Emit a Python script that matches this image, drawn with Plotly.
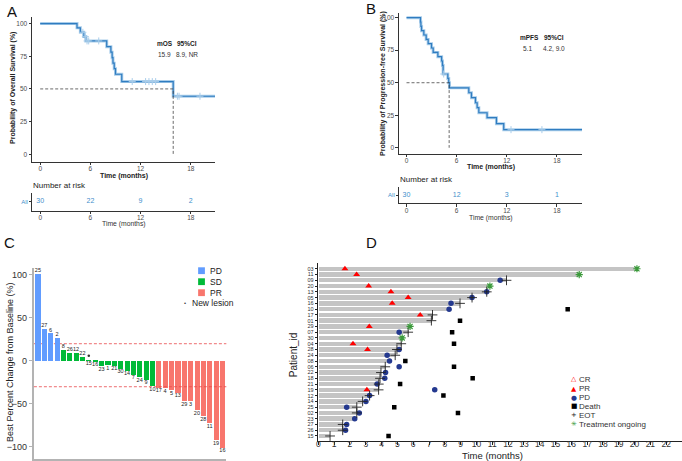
import numpy as np
import plotly.graph_objects as go

W, H = 682, 461
def fx(p): return p / W
def fy(p): return 1 - p / H

# ---------------- Panel A: overall survival ----------------
os_time = [0, 4.4, 4.8, 5.2, 5.45, 7.95, 8.45, 8.6, 8.7, 8.85, 9.0, 9.75, 15.9, 20.9]
os_surv = [100, 96.7, 93.3, 90.0, 86.7, 82.3, 78.1, 73.9, 69.7, 65.5, 61.2, 55.6, 44.4, 44.4]
os_censor = [5.1, 5.4, 5.6, 5.8, 7.0, 11.0, 12.6, 13.0, 13.4, 13.8, 16.4, 16.6, 19.1]
os_median = 15.9
os_risk_times = [0, 6, 12, 18]
os_risk_n = [30, 22, 9, 2]

# ---------------- Panel B: progression-free survival ----------------
pfs_time = [0, 1.67, 1.72, 1.8, 2.07, 2.35, 2.59, 2.99, 3.19, 3.75, 4.2, 4.3, 4.38, 4.94,
            5.05, 5.14, 7.45, 7.77, 8.25, 8.45, 8.65, 9.64, 10.76, 11.63, 21.0]
pfs_surv = [100, 96.7, 93.3, 90.0, 86.7, 83.3, 80.0, 76.7, 73.3, 70.0, 66.7, 63.3, 56.7, 53.3,
            50.0, 46.1, 42.3, 38.5, 34.6, 30.8, 26.9, 23.1, 18.5, 13.9, 13.9]
pfs_censor = [4.45, 12.5, 16.2]
pfs_median = 5.1
pfs_risk_times = [0, 6, 12, 18]
pfs_risk_n = [30, 12, 3, 1]

# ---------------- Panel C: waterfall ----------------
wf_patient = ["25", "27", "6", "2", "8", "26", "12", "22", "15", "16", "23", "1", "21", "30", "14",
              "7", "24", "9", "10", "17", "4", "5", "13", "29", "3", "20", "28", "11", "19", "16"]
wf_change = [101, 37, 32, 27, 13, 9.5, 9, 5, 0.5, -0.5, -6, -5, -5.5, -9, -11.5,
             -16, -19, -22, -29, -31, -31.5, -34, -37, -47, -47, -57, -64, -72, -92, -101]
wf_response = ["PD"] * 4 + ["SD"] * 15 + ["PR"] * 11
wf_new_lesion = ["15"]

# ---------------- Panel D: swimmer ----------------
sw_ids = ["03", "11", "09", "20", "13", "05", "16", "10", "17", "01", "29", "07", "30", "04", "28",
          "24", "08", "06", "22", "18", "21", "19", "12", "14", "25", "02", "23", "27", "26", "15"]
sw_duration = [20.15, 16.45, 11.9, 10.85, 10.65, 9.72, 8.96, 8.3, 7.22, 7.15, 5.8, 5.68, 5.3, 5.24, 5.0,
               4.86, 4.5, 4.23, 3.96, 3.9, 3.8, 3.81, 3.24, 2.8, 2.42, 2.5, 2.3, 1.54, 1.54, 0.74]
sw_pr = [1.68, 2.42, None, 3.18, 4.59, 5.68, 4.67, None, 6.44, None, 3.22, None, None, 2.19, 3.11,
         None, None, None, None, None, None, 3.07, None, None, None, None, None, None, None, None]
sw_pd = [None, None, 11.5, None, 10.65, 9.72, 8.39, 8.27, None, None, None, 5.11, None, None, 5.11,
         4.35, 4.5, 5.11, 4.25, 4.2, 3.72, 7.36, 3.24, 3.01, 1.79, 2.59, 2.3, 1.79, 1.72, None]
sw_death = [None, None, None, None, None, None, None, 15.77, None, 8.96, None, 8.46, None, 8.58, None,
            None, 5.5, 8.58, None, 9.76, 5.17, None, 7.91, None, 4.8, 8.83, None, None, None, 4.44]
sw_eot = [None, None, 11.9, None, 10.65, 9.72, 8.96, None, 7.22, 7.15, None, 5.68, None, 5.24, 4.97,
          4.86, None, 4.23, 3.96, 3.9, 3.82, 3.81, 3.24, 2.8, 2.43, 2.43, None, 1.54, 1.54, 0.74]
sw_ongoing = [20.15, 16.5, None, 10.85, None, None, None, None, None, None, 5.8, None, 5.3, None, None,
              None, None, None, None, None, None, None, None, None, None, None, None, None, None, None]
sw_ticks = list(range(0, 23))

FONT = "Liberation Sans, Arial, sans-serif"
KM_DARK = "#2f7cc0"
KM_LIGHT = "#a9cdea"
RISK_COL = "#3f8fcc"

fig = go.Figure()

def step_value(times, surv, t):
    idx = np.searchsorted(np.array(times), np.array(t), side="right") - 1
    return [surv[i] for i in idx]

def km(times, surv, cens, median, xa, ya):
    fig.add_trace(go.Scatter(x=times, y=surv, mode="lines", line=dict(shape="hv", color=KM_LIGHT, width=3),
                             xaxis=xa, yaxis=ya, showlegend=False, hoverinfo="skip"))
    fig.add_trace(go.Scatter(x=times, y=surv, mode="lines", line=dict(shape="hv", color=KM_DARK, width=1.2),
                             xaxis=xa, yaxis=ya, showlegend=False, hoverinfo="skip"))
    fig.add_trace(go.Scatter(x=cens, y=step_value(times, surv, cens), mode="markers",
                             marker=dict(symbol="cross-thin", size=5, line=dict(width=1, color=KM_LIGHT)),
                             xaxis=xa, yaxis=ya, showlegend=False, hoverinfo="skip"))
    fig.add_trace(go.Scatter(x=[0, median, median], y=[50, 50, 0], mode="lines",
                             line=dict(color="#444", width=0.8, dash="3px,2px"),
                             xaxis=xa, yaxis=ya, showlegend=False, hoverinfo="skip"))

def risk(times, n, xa, ya):
    fig.add_trace(go.Scatter(x=times, y=[0.5] * len(times), mode="text", text=[str(v) for v in n],
                             textfont=dict(color=RISK_COL, size=7, family=FONT),
                             xaxis=xa, yaxis=ya, showlegend=False, hoverinfo="skip"))

km(os_time, os_surv, os_censor, os_median, "x", "y")
risk(os_risk_times, os_risk_n, "x2", "y2")
km(pfs_time, pfs_surv, pfs_censor, pfs_median, "x3", "y3")
risk(pfs_risk_times, pfs_risk_n, "x4", "y4")

# ---- Waterfall ----
col_map = {"PD": "#619CFF", "SD": "#00BA38", "PR": "#F8766D"}
pos = list(range(1, len(wf_change) + 1))
fig.add_trace(go.Bar(x=pos, y=wf_change, marker=dict(color=[col_map[r] for r in wf_response], line=dict(width=0)),
                     width=0.8, xaxis="x5", yaxis="y5", showlegend=False, hoverinfo="skip"))
lab_y = [v + 3.6 if v > 1 else v - 3.8 for v in wf_change]
fig.add_trace(go.Scatter(x=pos, y=lab_y, mode="text", text=wf_patient,
                         textfont=dict(size=5.5, color="#222", family=FONT),
                         xaxis="x5", yaxis="y5", showlegend=False, hoverinfo="skip"))
nl_x = [p for p, pid in zip(pos, wf_patient) if pid in wf_new_lesion][:1]
nl_y = [max(wf_change[p - 1], 0) + 5.5 for p in nl_x]
fig.add_trace(go.Scatter(x=nl_x, y=nl_y, mode="markers", marker=dict(size=2.5, color="#333"),
                         xaxis="x5", yaxis="y5", showlegend=False, hoverinfo="skip"))

# ---- Swimmer ----
ypos = list(range(len(sw_ids) - 1, -1, -1))
fig.add_trace(go.Bar(x=sw_duration, y=ypos, orientation="h", width=0.76,
                     marker=dict(color="#c4c4c4", line=dict(width=0)),
                     xaxis="x6", yaxis="y6", showlegend=False, hoverinfo="skip"))
fig.add_trace(go.Scatter(x=sw_pr, y=ypos, mode="markers",
                         marker=dict(symbol="triangle-up", size=6, color="#ff0000"),
                         xaxis="x6", yaxis="y6", showlegend=False, hoverinfo="skip"))
fig.add_trace(go.Scatter(x=sw_pd, y=ypos, mode="markers",
                         marker=dict(symbol="circle", size=5.5, color="#24398f"),
                         xaxis="x6", yaxis="y6", showlegend=False, hoverinfo="skip"))
fig.add_trace(go.Scatter(x=sw_death, y=ypos, mode="markers",
                         marker=dict(symbol="square", size=4.5, color="#000000"),
                         xaxis="x6", yaxis="y6", showlegend=False, hoverinfo="skip"))
fig.add_trace(go.Scatter(x=sw_eot, y=ypos, mode="markers",
                         marker=dict(symbol="cross-thin", size=7, line=dict(width=0.9, color="#222")),
                         xaxis="x6", yaxis="y6", showlegend=False, hoverinfo="skip"))
fig.add_trace(go.Scatter(x=sw_ongoing, y=ypos, mode="markers",
                         marker=dict(symbol="asterisk", size=6, line=dict(width=1.2, color="#3b9a3b")),
                         xaxis="x6", yaxis="y6", showlegend=False, hoverinfo="skip"))

# ---- Axes ----
tick_small = dict(size=6.5, color="#4d4d4d", family=FONT)
def dom_x(a, b): return [fx(a), fx(b)]
def dom_y(top, bottom): return [fy(bottom), fy(top)]

km_x = dict(showline=True, linecolor="#333", linewidth=0.8, ticks="outside", ticklen=2.5, tickwidth=0.8,
            tickcolor="#333", tickvals=[0, 6, 12, 18], tickfont=tick_small, showgrid=False, zeroline=False,
            ticklabelstandoff=-2)
km_y = dict(showline=True, linecolor="#333", linewidth=0.8, ticks="outside", ticklen=2.5, tickwidth=0.8,
            tickcolor="#333", tickvals=[0, 25, 50, 75, 100], tickfont=tick_small, showgrid=False, zeroline=False)
risk_y = dict(showline=True, linecolor="#333", linewidth=0.8, ticks="outside", ticklen=2, tickwidth=0.8,
              tickcolor="#333", tickvals=[0.5], ticktext=["All"], range=[0, 1],
              tickfont=dict(size=6, color=RISK_COL, family=FONT), showgrid=False, zeroline=False)

layout = dict(
    width=W, height=H, autosize=False, margin=dict(l=0, r=0, t=0, b=0),
    paper_bgcolor="white", plot_bgcolor="white", font=dict(family=FONT),
    xaxis=dict(km_x, domain=dom_x(30, 214), range=[-0.99, 20.94], anchor="y"),
    yaxis=dict(km_y, domain=dom_y(17, 162), range=[-5.9, 105], anchor="x"),
    xaxis2=dict(km_x, domain=dom_x(30, 214), range=[-0.99, 20.94], anchor="y2"),
    yaxis2=dict(risk_y, domain=dom_y(192.7, 210.7), anchor="x2"),
    xaxis3=dict(km_x, domain=dom_x(398, 582), range=[-0.92, 21.03], anchor="y3"),
    yaxis3=dict(km_y, domain=dom_y(13, 154), range=[-4.8, 103.6], anchor="x3"),
    xaxis4=dict(km_x, domain=dom_x(398, 582), range=[-0.92, 21.03], anchor="y4"),
    yaxis4=dict(risk_y, domain=dom_y(186.7, 203.3), anchor="x4"),
    xaxis5=dict(domain=dom_x(32, 225), range=[0.373, 30.62], anchor="y5", showline=True,
                linecolor="#b3b3b3", linewidth=2, showticklabels=False, ticks="", showgrid=False, zeroline=False),
    yaxis5=dict(domain=dom_y(268, 459), range=[-114, 108], anchor="x5", showline=True,
                linecolor="#b3b3b3", linewidth=2, ticks="outside", ticklen=3, tickcolor="#b3b3b3",
                tickvals=[-100, -50, 0, 50, 100], tickfont=dict(size=9, color="#333", family=FONT),
                showgrid=False, zeroline=False),
    xaxis6=dict(domain=dom_x(316.5, 682), range=[-0.05, 23.0], anchor="y6", showline=True,
                linecolor="#222", linewidth=0.8, ticks="outside", ticklen=3, tickcolor="#222",
                tickvals=sw_ticks, tickfont=dict(size=8.5, color="#333", family=FONT),
                showgrid=False, zeroline=False, ticklabelstandoff=-8),
    yaxis6=dict(domain=dom_y(263, 441), range=[-0.87, 30.0], anchor="x6", showline=True,
                linecolor="#222", linewidth=0.8, ticks="outside", ticklen=2, tickcolor="#222",
                tickvals=ypos, ticktext=sw_ids, tickfont=dict(size=5.5, color="#333", family=FONT),
                showgrid=False, zeroline=False),
    bargap=0,
)
fig.update_layout(**layout)

# reference lines in waterfall
fig.add_shape(type="line", xref="x5 domain", yref="y5", x0=0, x1=1, y0=20, y1=20,
              line=dict(color="#e8474b", width=0.8, dash="3px,2px"), layer="below")
fig.add_shape(type="line", xref="x5 domain", yref="y5", x0=0, x1=1, y0=-30, y1=-30,
              line=dict(color="#e8474b", width=0.8, dash="3px,2px"), layer="above")

# waterfall legend keys
for yc, key in [(270.7, "PD"), (281.7, "SD"), (292.7, "PR")]:
    fig.add_shape(type="rect", xref="paper", yref="paper", x0=fx(196.7), x1=fx(203.5),
                  y0=fy(yc + 3.4), y1=fy(yc - 3.4), fillcolor=col_map[key], line=dict(width=0))

ann = []
def T(x, y, text, size=7, color="#222", xanchor="center", angle=0, bold=False, family=FONT):
    if bold:
        text = "<b>" + text + "</b>"
    ann.append(dict(x=fx(x), y=fy(y), xref="paper", yref="paper", text=text, showarrow=False,
                    xanchor=xanchor, yanchor="middle", textangle=angle,
                    font=dict(size=size, color=color, family=family)))

# panel letters
T(10, 11, "A", size=15, color="#111")
T(370, 9, "B", size=15, color="#111")
T(8, 243, "C", size=15, color="#111")
T(371, 243, "D", size=15, color="#111")

# Panel A texts
T(11, 88, "Probability of Overall Survival (%)", size=7, angle=-90, bold=True)
T(122, 175.5, "Time (months)", size=7, bold=True)
T(163, 44, "mOS", size=6.5, bold=True)
T(186, 44, "95%CI", size=6.5, bold=True)
T(163, 54, "15.9", size=6.5, color="#333")
T(186, 54, "8.9, NR", size=6.5, color="#333")
T(29, 186, "Number at risk", size=8, xanchor="left")
T(122, 224, "Time (months)", size=6.8, color="#333")

# Panel B texts
T(382, 83, "Probability of Progression-free Survival (%)", size=7, angle=-90, bold=True)
T(490, 166.5, "Time (months)", size=7, bold=True)
T(529, 38, "mPFS", size=6.5, bold=True)
T(554, 38, "95%CI", size=6.5, bold=True)
T(527, 48, "5.1", size=6.5, color="#333")
T(554, 48, "4.2, 9.0", size=6.5, color="#333")
T(397, 179, "Number at risk", size=8, xanchor="left")
T(490, 217.5, "Time (months)", size=6.8, color="#333")

# Panel C texts
T(8, 362, "Best Percent Change from Baseline (%)", size=9, angle=-90, color="#222")
T(207, 270.7, "PD", size=8.5, xanchor="left")
T(207, 281.7, "SD", size=8.5, xanchor="left")
T(207, 292.7, "PR", size=8.5, xanchor="left")
T(183.5, 302.7, "•", size=6, color="#444")
T(188.5, 302.7, "New lesion", size=8.5, xanchor="left")

# Panel D texts
T(292, 355, "Patient_id", size=10, angle=-90)
T(492, 455.5, "Time (months)", size=9.5)
leg = [("△", "#ff0000", "CR", 379.3), ("▲", "#ff0000", "PR", 388.7), ("●", "#24398f", "PD", 397.7),
       ("■", "#000000", "Death", 406.3), ("+", "#222222", "EOT", 415.0), ("✳", "#3b9a3b", "Treatment ongoing", 424.3)]
for g, c, lab, yy in leg:
    T(573.5, yy, g, size=6.8, color=c, family="DejaVu Sans")
    T(577, yy, lab, size=8, color="#333", xanchor="left")

fig.update_layout(annotations=ann)
fig.write_html("out.html", config={"displayModeBar": False},
               post_script="document.body.style.margin='0px';")
